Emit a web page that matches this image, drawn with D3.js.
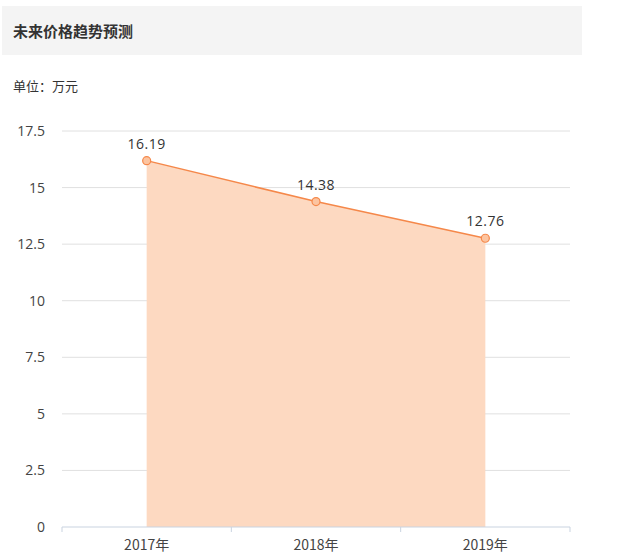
<!DOCTYPE html>
<html>
<head>
<meta charset="utf-8">
<script src="https://cdn.jsdelivr.net/npm/d3@7"></script>
<style>
  body { margin: 0; background: #fff; font-family: "Noto Sans CJK SC", "Noto Sans", sans-serif; }
</style>
</head>
<body>
<div id="chart"></div>
<script>
const years = ['2017年', '2018年', '2019年'];
const prices = [16.19, 14.38, 12.76];
const yTicks = [0, 2.5, 5, 7.5, 10, 12.5, 15, 17.5];

const width = 640, height = 559;
const plotLeft = 62, plotRight = 570, plotTop = 131, plotBottom = 527;

const svg = d3.select('#chart').append('svg')
  .attr('width', width).attr('height', height);

// header box
svg.append('rect').attr('x', 2).attr('y', 6).attr('width', 580).attr('height', 49).attr('fill', '#f4f4f4');
svg.append('text').attr('x', 13).attr('y', 37).text('未来价格趋势预测')
  .attr('font-size', 15).attr('font-weight', 'bold').attr('fill', '#333');
svg.append('text').attr('x', 13).attr('y', 91).text('单位：万元')
  .attr('font-size', 13).attr('fill', '#333');

const x = d3.scaleBand().domain(years).range([plotLeft, plotRight]);
const y = d3.scaleLinear().domain([0, 17.5]).range([plotBottom, plotTop]);
const cx = d => x(d) + x.bandwidth() / 2;

// grid
svg.append('g').selectAll('line').data(yTicks.filter(t => t > 0)).enter().append('line')
  .attr('x1', plotLeft).attr('x2', plotRight)
  .attr('y1', d => y(d)).attr('y2', d => y(d))
  .attr('stroke', '#e0e0e0').attr('stroke-width', 1);

// y axis labels
const yAxis = d3.axisLeft(y).tickValues(yTicks).tickSize(0).tickPadding(17)
  .tickFormat(d => d3.format('')(d));
svg.append('g').attr('transform', 'translate(' + plotLeft + ',0)').call(yAxis)
  .call(g => g.select('.domain').remove())
  .selectAll('text').attr('font-size', 14).attr('fill', '#444')
  .attr('font-family', '"Open Sans", "Noto Sans", sans-serif');

// area + line
const data = years.map((c, i) => ({ c, v: prices[i] }));
svg.append('path').datum(data)
  .attr('d', d3.area().x(d => cx(d.c)).y0(y(0)).y1(d => y(d.v)))
  .attr('fill', '#fdd9c1');
svg.append('path').datum(data)
  .attr('d', d3.line().x(d => cx(d.c)).y(d => y(d.v)))
  .attr('fill', 'none').attr('stroke', '#f5884a').attr('stroke-width', 1.5);

// x axis
const xAxis = d3.axisBottom(x).tickSize(0).tickPadding(13);
const gx = svg.append('g').attr('transform', 'translate(0,' + plotBottom + ')').call(xAxis);
gx.select('.domain').remove();
gx.append('line').attr('x1', plotLeft).attr('x2', plotRight).attr('stroke', '#c9d3e0');
gx.selectAll('.sep').data(d3.range(years.length + 1)).enter().append('line')
  .attr('x1', i => plotLeft + i * x.step()).attr('x2', i => plotLeft + i * x.step())
  .attr('y1', 0).attr('y2', 5).attr('stroke', '#c9d3e0');
gx.selectAll('text').attr('font-size', 14).attr('fill', '#444')
  .attr('font-family', '"Noto Sans CJK SC", sans-serif');

// points
svg.append('g').selectAll('circle').data(data).enter().append('circle')
  .attr('cx', d => cx(d.c)).attr('cy', d => y(d.v)).attr('r', 4)
  .attr('fill', '#fcc4a0').attr('stroke', '#f5884a').attr('stroke-width', 1.2);

// value labels
svg.append('g').selectAll('text').data(data).enter().append('text')
  .attr('x', d => cx(d.c)).attr('y', d => y(d.v) - 12)
  .attr('text-anchor', 'middle').attr('font-size', 14).attr('fill', '#333')
  .attr('font-family', '"Open Sans", "Noto Sans", sans-serif')
  .attr('letter-spacing', 0.5)
  .text(d => d3.format('.2f')(d.v));
</script>
</body>
</html>
